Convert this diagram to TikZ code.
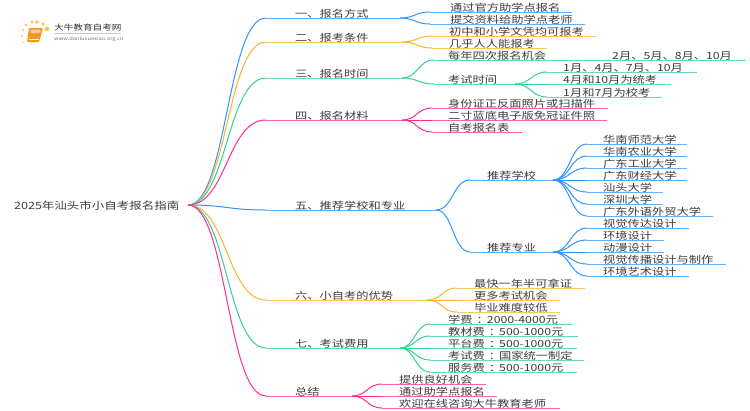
\documentclass[tikz,border=0pt]{standalone}
\usepackage{fontspec}
\setmainfont[FakeStretch=1.25]{Noto Sans CJK SC}
\usetikzlibrary{calc}
\definecolor{zweigblau}{RGB}{47,148,255}
\definecolor{zweiggelb}{RGB}{251,178,44}
\definecolor{zweiggruen}{RGB}{52,208,146}
\definecolor{zweigrosa}{RGB}{255,45,140}
\definecolor{schrift}{RGB}{60,60,60}
\definecolor{buch}{RGB}{243,150,30}
\tikzset{
  txt/.style={anchor=base west, inner sep=0pt, text=schrift, font=\fontsize{9.8}{10}\selectfont},
  ast/.style={line width=1pt},
  glatt/.style={line width=1pt, draw opacity=0.75}
}
\newcommand{\kolon}{\kern4pt：\kern-2pt}
% Zweig: Ursprung, x, Farbe, Abstand der Kontrollpunkte, Text-x, dann Liste y/Ende/Text
\newcommand{\zweig}[6]{%
  \foreach \y/\e/\t [count=\i] in {#6}{%
    \coordinate (#1s\i) at ({#2+2*#4},\y);
    \coordinate (#1e\i) at (\e,\y);
    \node[txt] (#1t\i) at (#5,{\y-1}) {\t};
    \draw[ast,#3] (#1) .. controls ($(#1)+(#4,0)$) and ($(#1s\i)-(#4,0)$) .. (#1s\i);
    \draw[glatt,#3] (#1s\i) -- (#1e\i);
  }%
}
\begin{document}
\begin{tikzpicture}[x=1pt,y=-1pt]
    \useasboundingbox (0,0) rectangle (750,410);

    % logo
    \foreach \x/\y/\r in {47/29/2.3,43/24/1.8,37/22/1.8,32/22/1.6,26/25/1.4,23/30/1.2,22/36/1,23/42/.8}
        \fill[zweiggelb!80] (\x,\y) circle (\r);
    \fill[buch,rounded corners=1pt] (29,28) -- (43,28) -- (39,42) -- (27,42) -- cycle;
    \fill[buch!45,rounded corners=1pt] (31,29.5) -- (41,29.5) -- (40,33) -- (30,33) -- cycle;
    \draw[white,line width=.5pt] (28.5,39.5) -- (38.5,39.5);
    \node[txt,text=black!80,font=\fontsize{7.7}{8}\selectfont] (logotitel) at (54,30) {大牛教育自考网};
    \node[txt,text=black!55,font=\fontsize{4.6}{5}\selectfont] (logourl) at (54,40) {www.daniuxuexiao.org.cn};
    \draw[black!20,line width=.5pt] (54,33) -- (121,33);

    % wurzel
    \node[txt,font=\fontsize{10}{10}\selectfont] (titel) at (14,209) {2025年汕头市小自考报名指南};
    \coordinate (wurzel) at (188,205);

    % hauptzweige
    \coordinate (k1) at (400,18);
    \coordinate (k2) at (402,42);
    \coordinate (k3) at (402,78);
    \coordinate (k4) at (402,120);
    \coordinate (k5) at (436,210);
    \coordinate (k6) at (427,300);
    \coordinate (k7) at (400,348);
    \coordinate (k8) at (352,396);
    \foreach \k/\x/\y/\f/\t in {%
        1/266/18/zweigblau/一、报名方式,
        2/266/42/zweiggelb/二、报考条件,
        3/266/78/zweiggruen/三、报名时间,
        4/266/120/zweigrosa/四、报名材料,
        5/266/210/zweigblau/五、推荐学校和专业,
        6/266/300/zweiggelb/六、小自考的优势,
        7/266/348/zweiggruen/七、考试费用,
        8/266/396/zweigrosa/总结}{
        \coordinate (h\k) at (\x,\y);
        \node[txt] (ht\k) at (295,{\y-1}) {\t};
        \draw[ast,\f] (wurzel) .. controls ($(wurzel)+(39,0)$) and ($(h\k)-(39,0)$) .. (h\k);
        \draw[glatt,\f] (h\k) -- (k\k);
    }

    % blaetter
    \zweig{k1}{400}{zweigblau}{15}{450}{12/572/通过官方助学点报名,24/585/提交资料给助学点老师}
    \zweig{k2}{402}{zweiggelb}{15}{449}{36/596/初中和小学文凭均可报考,48/547/几乎人人能报考}
    \zweig{k3}{402}{zweiggruen}{16}{448}{60/746/每年四次报名机会}
    \node[txt] (termine) at (612,59) {2月、5月、8月、10月};
    \coordinate (k31) at (515,84);
    \coordinate (k3s) at (434,84);
    \node[txt] (pruefzeit) at (448,83) {考试时间};
    \draw[ast,zweiggruen] (k3) .. controls ($(k3)+(16,0)$) and ($(k3s)-(16,0)$) .. (k3s);
    \draw[glatt,zweiggruen] (k3s) -- (k31);
    \zweig{k31}{515}{zweiggruen}{16}{563}{72/697/1月、4月、7月、10月,84/671/4月和10月为统考,97/662/1月和7月为校考}
    \zweig{k4}{402}{zweigrosa}{15}{448}{108/608/身份证正反面照片或扫描件,120/607/二寸蓝底电子版免冠证件照,132/522/自考报名表}

    \coordinate (s1) at (470,180);
    \coordinate (s2) at (470,252);
    \coordinate (k51) at (553,180);
    \coordinate (k52) at (553,252);
    \node[txt] (schule) at (487,179) {推荐学校};
    \node[txt] (fach) at (487,251) {推荐专业};
    \foreach \s/\w in {s1/k51,s2/k52}{
        \draw[ast,zweigblau] (k5) .. controls ($(k5)+(17,0)$) and ($(\s)-(17,0)$) .. (\s);
        \draw[glatt,zweigblau] (\s) -- (\w);
    }
    \zweig{k51}{553}{zweigblau}{17}{603}{144/687/华南师范大学,156/687/华南农业大学,168/687/广东工业大学,180/687/广东财经大学,192/663/汕头大学,204/663/深圳大学,216/713/广东外语外贸大学}
    \zweig{k52}{553}{zweigblau}{17}{603}{228/689/视觉传达设计,240/664/环境设计,252/664/动漫设计,264/726/视觉传播设计与制作,276/689/环境艺术设计}
    \zweig{k6}{427}{zweiggelb}{15}{474}{288/585/最快一年半可拿证,300/560/更多考试机会,312/560/毕业难度较低}
    \zweig{k7}{400}{zweiggruen}{15}{448}{324/572/学费\kolon 2000-4000元,336/578/教材费\kolon 500-1000元,348/577/平台费\kolon 500-1000元,360/584/考试费\kolon 国家统一制定,372/577/服务费\kolon 500-1000元}
    \zweig{k8}{352}{zweigrosa}{15}{399}{384/486/提供良好机会,396/497/通过助学点报名,408/560/欢迎在线咨询大牛教育老师}

\end{tikzpicture}
\end{document}
